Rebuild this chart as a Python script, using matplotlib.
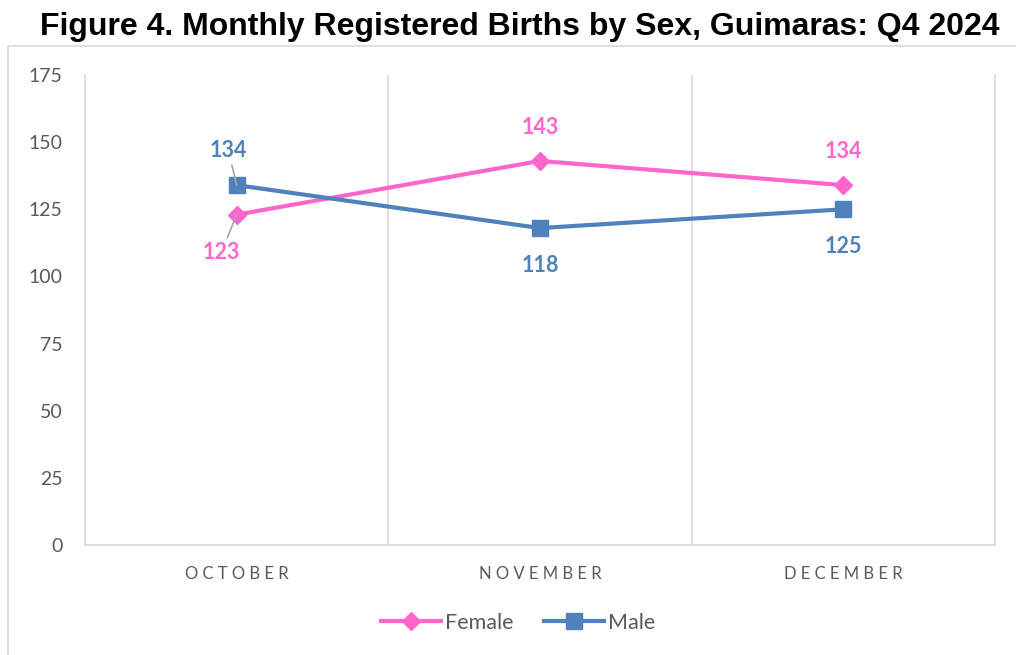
import matplotlib.pyplot as plt
from matplotlib.patches import Rectangle

# Data
months = ['OCTOBER', 'NOVEMBER', 'DECEMBER']
female = [123, 143, 134]
male = [134, 118, 125]
yticks = [0, 25, 50, 75, 100, 125, 150, 175]

pink = '#FF66CC'
blue = '#4F81BD'
grid_col = '#D9D9D9'
text_col = '#595959'

plt.rcParams['font.family'] = ['Lato', 'DejaVu Sans']

fig = plt.figure(figsize=(10.16, 6.55), dpi=100)
ax = fig.add_axes([85 / 1016, 1 - 545 / 655, 910 / 1016, 470 / 655])

x = list(range(len(months)))
ax.plot(x, female, color=pink, lw=3, marker='D', ms=9, label='Female', zorder=3)
ax.plot(x, male, color=blue, lw=3, marker='s', ms=11, label='Male', zorder=3)

ax.set_xlim(-0.5, len(months) - 0.5)
ax.set_ylim(0, 175)
ax.set_yticks(yticks)
ax.set_xticks(x)
ax.set_xticklabels([' '.join(m) for m in months], fontsize=12, color=text_col)
ax.tick_params(axis='y', labelsize=14, colors=text_col, length=0, pad=16)
ax.tick_params(axis='x', length=0, pad=15)

# vertical gridlines between categories
for b in [0.5, 1.5]:
    ax.axvline(b, color=grid_col, lw=1.2, zorder=1)
for side in ['left', 'right', 'bottom']:
    ax.spines[side].set_color(grid_col)
    ax.spines[side].set_linewidth(1.2)
ax.spines['top'].set_visible(False)

# data labels
lbl = dict(ha='center', va='center', fontsize=15.5, fontweight='bold')
ax.annotate(str(female[0]), (0, female[0]), xytext=(-11, -27), textcoords='offset points',
            color=pink, arrowprops=dict(arrowstyle='-', color='#A6A6A6', lw=1.2, shrinkA=1, shrinkB=0), **lbl)
ax.annotate(str(male[0]), (0, male[0]), xytext=(-6, 25), textcoords='offset points',
            color=blue, arrowprops=dict(arrowstyle='-', color='#A6A6A6', lw=1.2, shrinkA=1, shrinkB=0), **lbl)
ax.annotate(str(female[1]), (1, female[1]), xytext=(0, 24), textcoords='offset points', color=pink, **lbl)
ax.annotate(str(female[2]), (2, female[2]), xytext=(0, 24), textcoords='offset points', color=pink, **lbl)
ax.annotate(str(male[1]), (1, male[1]), xytext=(0, -27), textcoords='offset points', color=blue, **lbl)
ax.annotate(str(male[2]), (2, male[2]), xytext=(0, -27), textcoords='offset points', color=blue, **lbl)

fig.legend(loc='center', bbox_to_anchor=(0.51, 1 - 623 / 655), ncol=2, frameon=False,
           fontsize=15.5, labelcolor=text_col, handlelength=2.8, columnspacing=1.4, handletextpad=0.2)

fig.text(0.512, 1 - 27 / 655, 'Figure 4. Monthly Registered Births by Sex, Guimaras: Q4 2024',
         ha='center', va='center', fontsize=23, fontweight='bold', family='Liberation Sans')

# chart area border
fig.patches.append(Rectangle((8 / 1016, -0.01), 1.0, 1 - 46 / 655 + 0.01, transform=fig.transFigure,
                             fill=False, edgecolor=grid_col, lw=1.2))

fig.savefig('out.png', dpi=100)
